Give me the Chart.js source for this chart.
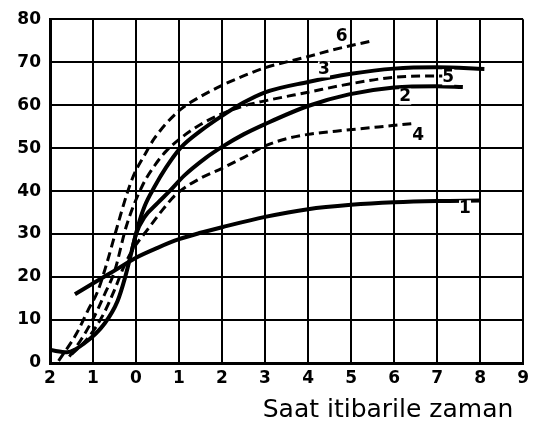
<!DOCTYPE html>
<html>
<head>
<meta charset="utf-8">
<script src="https://cdn.jsdelivr.net/npm/chart.js@4.4.0/dist/chart.umd.min.js"></script>
<style>
  html, body { margin: 0; padding: 0; background: #fff; }
  #wrap { width: 534px; height: 430px; }
</style>
</head>
<body>
<div id="wrap"><canvas id="chart" width="534" height="430"></canvas></div>
<script>
// Curve data (x = hours, y = value)
const c1x = [-1.42, -0.84, -0.5, 0, 0.5, 1, 1.5, 2, 3, 4, 5, 6, 7, 8];
const c1y = [16, 19.5, 21.5, 24.5, 26.8, 28.8, 30.3, 31.6, 34, 35.8, 36.8, 37.4, 37.7, 37.8];

const c2x = [-2, -1.6, -1.2, -0.73, -0.43, -0.26, -0.1, 0, 0.2, 0.5, 0.78, 1.12, 1.63, 2, 2.5, 3, 4, 4.95, 6, 7, 7.6];
const c2y = [3, 2.5, 4.6, 9.2, 14.4, 19.7, 26, 30, 34, 37.2, 40, 43.6, 47.8, 50.3, 53.2, 55.6, 59.8, 62.5, 64.1, 64.4, 64.2];

const c3x = [-0.1, 0.05, 0.2, 0.43, 0.7, 1.03, 1.5, 2, 2.5, 3, 4, 5, 6, 7, 8.1];
const c3y = [26, 32, 36.5, 41, 45.5, 50, 54, 57.5, 60.6, 63, 65.4, 67.3, 68.5, 68.8, 68.4];

const c4x = [-1.5, -1.1, -0.75, -0.5, -0.3, -0.1, 0.28, 0.63, 0.93, 1.5, 2, 2.5, 3, 3.5, 4, 4.9, 6, 6.4];
const c4y = [2, 6, 11.5, 17, 22, 26, 31.2, 35.8, 39.2, 43, 45.3, 47.8, 50.5, 52.2, 53.2, 54.2, 55.3, 55.7];

const c5x = [-1.55, -1.26, -0.96, -0.73, -0.5, -0.22, 0.15, 0.43, 0.7, 1.1, 1.5, 2, 2.5, 3, 4, 5, 6, 7, 7.2];
const c5y = [1.5, 5.7, 11, 16, 21.3, 32, 41.3, 45.9, 49.3, 52.8, 55.5, 58, 59.8, 61, 63, 65, 66.5, 66.8, 66.8];

const c6x = [-1.8, -1.38, -1.12, -0.89, -0.7, -0.43, -0.2, -0.04, 0.2, 0.43, 1, 1.5, 2, 2.5, 3, 4, 4.55, 5.5];
const c6y = [0.5, 6.9, 12.2, 16.7, 22.5, 32, 39.7, 44, 48.4, 52.3, 58.7, 62, 64.6, 66.8, 68.7, 71.3, 72.8, 75];

// Curve numbers and where they sit
const curveNames = ['1', '2', '3', '4', '5', '6'];
const nameX = [7.65, 6.26, 4.37, 6.56, 7.26, 4.78];
const nameY = [36, 62, 68.3, 53, 66.5, 76];

const xTitle = 'Saat itibarile zaman';

const toPoints = function(xs, ys) {
    return xs.map((x, i) => ({ x: x, y: ys[i] }));
};

const solid = function(xs, ys) {
    return {
        data: toPoints(xs, ys),
        borderColor: '#000',
        borderWidth: 4,
        pointRadius: 0,
        fill: false,
        cubicInterpolationMode: 'monotone',
    };
};

const dashed = function(xs, ys) {
    return {
        data: toPoints(xs, ys),
        borderColor: '#000',
        borderWidth: 3,
        borderDash: [9, 5],
        pointRadius: 0,
        fill: false,
        cubicInterpolationMode: 'monotone',
    };
};

// Draws curve numbers and the x axis caption as text
const labelPlugin = {
    id: 'labels',
    afterDatasetsDraw(chart) {
        const ctx = chart.ctx;
        const xs = chart.scales.x, ys = chart.scales.y;
        ctx.save();
        ctx.textAlign = 'center';
        ctx.textBaseline = 'middle';
        ctx.font = 'bold 17px "DejaVu Sans"';
        curveNames.forEach((n, i) => {
            const px = xs.getPixelForValue(nameX[i]);
            const py = ys.getPixelForValue(nameY[i]);
            ctx.fillStyle = '#fff';
            ctx.fillRect(px - 6, py - 8, 12, 16);
            ctx.fillStyle = '#000';
            ctx.fillText(n, px, py);
        });
        ctx.font = '25px "DejaVu Sans"';
        ctx.fillText(xTitle, 388, 410);
        ctx.restore();
    }
};

const tickFont = { family: 'DejaVu Sans', size: 17, weight: 'bold' };

const ctx = document.getElementById('chart').getContext('2d');
const chart = new Chart(ctx, {
    type: 'line',
    data: {
        datasets: [
            solid(c1x, c1y),
            solid(c2x, c2y),
            solid(c3x, c3y),
            dashed(c4x, c4y),
            dashed(c5x, c5y),
            dashed(c6x, c6y),
        ]
    },
    options: {
        responsive: false,
        maintainAspectRatio: false,
        animation: false,
        layout: {
            padding: { left: 0, right: 9, top: 14, bottom: 0 },
        },
        plugins: {
            legend: { display: false },
            tooltip: { enabled: false },
        },
        scales: {
            x: {
                type: 'linear',
                min: -2,
                max: 9,
                afterFit: function(scale) { scale.height = 67; },
                ticks: {
                    stepSize: 1,
                    color: '#000',
                    font: tickFont,
                    padding: 5,
                    callback: function(v) { return Math.abs(v); },
                },
                grid: { color: '#000', lineWidth: 2, drawTicks: false },
                border: { color: '#000', width: 3 },
            },
            y: {
                min: 0,
                max: 80,
                afterFit: function(scale) { scale.width = 50; },
                ticks: {
                    stepSize: 10,
                    color: '#000',
                    font: tickFont,
                    padding: 9,
                },
                grid: { color: '#000', lineWidth: 2, drawTicks: false },
                border: { color: '#000', width: 3 },
            },
        },
    },
    plugins: [labelPlugin],
});
</script>
</body>
</html>
